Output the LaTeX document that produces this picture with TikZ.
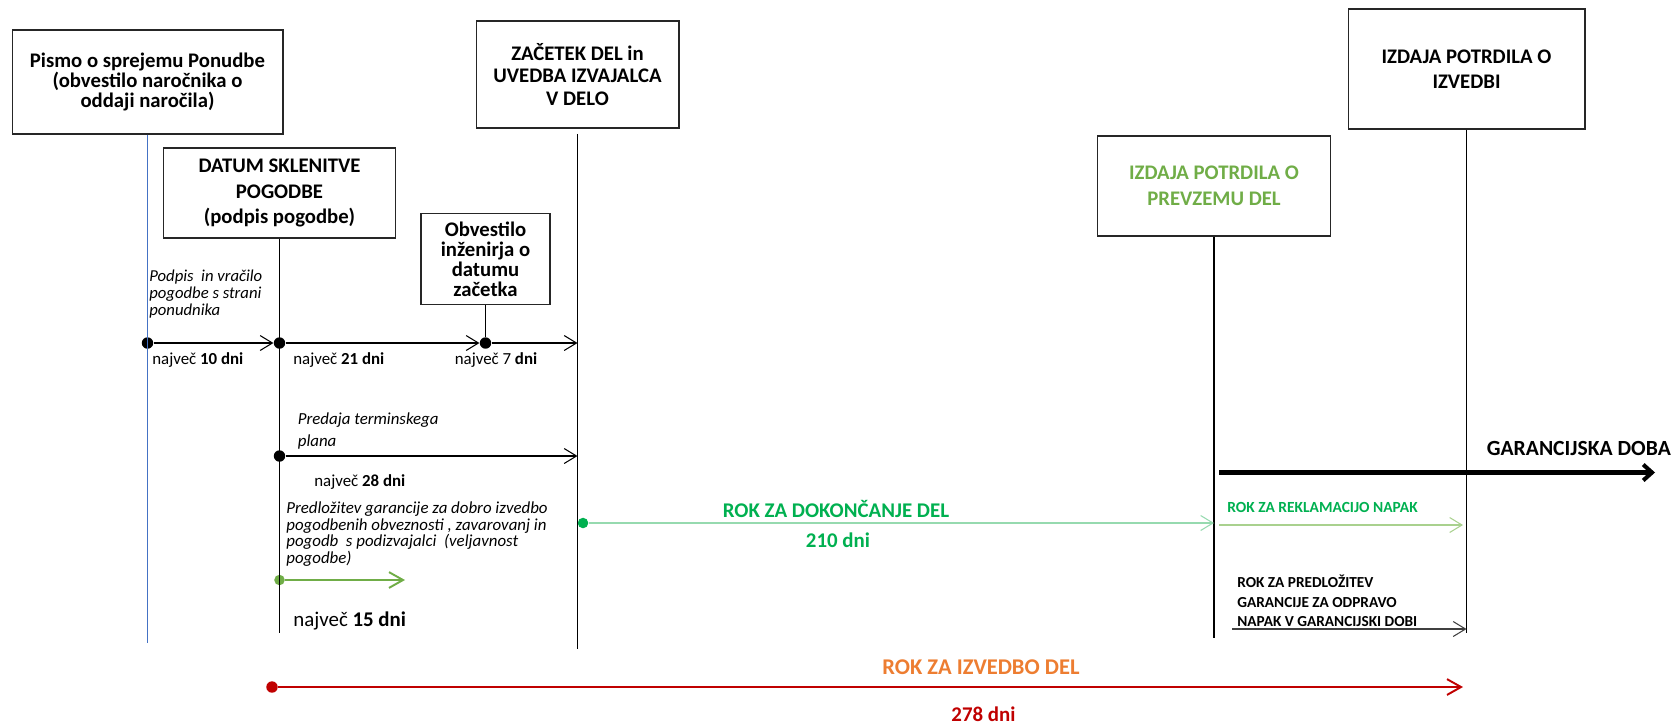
\documentclass[tikz,border=0pt]{standalone}
\usepackage{fontspec}
\setmainfont{Carlito}
\usetikzlibrary{arrows.meta,positioning}
\definecolor{myblue}{RGB}{68,114,196}
\definecolor{mygreen}{RGB}{0,176,80}
\definecolor{myleaf}{RGB}{112,173,71}
\definecolor{mymint}{RGB}{150,218,175}
\definecolor{mypale}{RGB}{169,209,142}
\definecolor{myorange}{RGB}{237,125,49}
\definecolor{myred}{RGB}{192,0,0}

\begin{document}
\begin{tikzpicture}[x=0.02cm,y=-0.02cm,
	eventbox/.style={draw=black!85,line width=0.6pt,rectangle,inner sep=0pt,align=center},
	dot/.style={circle,fill,inner sep=0pt,minimum size=6.5pt},
	vline/.style={line width=0.6pt},
	period/.style={line width=0.6pt,-{Straight Barb[length=7pt,width=8.5pt]}},
	days/.style={anchor=west,inner sep=0pt,font=\fontsize{9.6}{11}\selectfont},
	note/.style={anchor=west,inner sep=0pt,align=left,font=\itshape\fontsize{9.6}{9.4}\selectfont},
	caption/.style={inner sep=0pt,font=\bfseries\fontsize{11.9}{13}\selectfont},
	]
	\useasboundingbox (0,0) rectangle (1675,725);

	% the event boxes
	\node[eventbox,minimum width=5.42cm,minimum height=2.08cm,font=\bfseries\fontsize{11.8}{11.4}\selectfont] (pismo) at (147.5,82)
		{Pismo o sprejemu Ponudbe\\(obvestilo naročnika o\\oddaji naročila)};
	\node[eventbox,minimum width=4.64cm,minimum height=1.80cm,font=\bfseries\fontsize{11.8}{14.3}\selectfont] (datum) at (279.5,193)
		{DATUM SKLENITVE\\POGODBE\\(podpis pogodbe)};
	\node[eventbox,minimum width=2.58cm,minimum height=1.82cm,font=\bfseries\fontsize{11.8}{11.3}\selectfont] (obvestilo) at (485.5,259)
		{Obvestilo\\inženirja o\\datumu\\začetka};
	\node[eventbox,minimum width=4.06cm,minimum height=2.14cm,font=\bfseries\fontsize{11.8}{12.6}\selectfont] (zacetek) at (577.5,74.5)
		{ZAČETEK DEL in\\UVEDBA IZVAJALCA\\V DELO};
	\node[eventbox,minimum width=4.66cm,minimum height=2.00cm,text=myleaf,font=\bfseries\fontsize{11.8}{14.5}\selectfont] (prevzem) at (1214,186)
		{IZDAJA POTRDILA O\\PREVZEMU DEL};
	\node[eventbox,minimum width=4.74cm,minimum height=2.40cm,font=\bfseries\fontsize{11.8}{14}\selectfont] (izvedba) at (1466.5,69)
		{IZDAJA POTRDILA O\\IZVEDBI};

	% ends of the time lines
	\coordinate (pismo end) at (147.5,643);
	\coordinate (datum end) at (279.5,633);
	\coordinate (zacetek end) at (577.5,649);
	\coordinate (prevzem end) at (1214,638);
	\coordinate (izvedba end) at (1466.5,633);

	% milestones
	\node[dot] (m1) at (147.5,343) {};
	\node[dot] (m2) at (279.5,343) {};
	\node[dot] (m3) at (485.5,343) {};
	\node[dot] (m4) at (279.5,456) {};
	\node[dot,myleaf,minimum size=6pt] (m5) at (279.5,580) {};
	\node[dot,mygreen,minimum size=6pt] (m6) at (583,523) {};
	\node[dot,myred] (m7) at (272,687) {};

	% arrow ends
	\coordinate (z1) at (577.5,343);
	\coordinate (z2) at (577.5,456);
	\coordinate (g1) at (405,580);
	\coordinate (k1) at (1214,523);
	\coordinate (r0) at (1219,525);
	\coordinate (r1) at (1463,525);
	\coordinate (w0) at (1219,472.5);
	\coordinate (w1) at (1655,472.5);
	\coordinate (o0) at (1232,629);
	\coordinate (o1) at (1466.5,629);
	\coordinate (i1) at (1463,687);

	% time lines
	\draw[vline,myblue] (pismo) -- (pismo end);
	\draw[vline] (datum) -- (datum end);
	\draw[vline] (obvestilo) -- (m3);
	\draw[vline,shorten <=3pt] (zacetek) -- (zacetek end);
	\draw[vline] (prevzem) -- (prevzem end);
	\draw[vline] (izvedba) -- (izvedba end);

	% periods
	\draw[period] (m1) -- (m2);
	\draw[period] (m2) -- (m3);
	\draw[period] (m3) -- (z1);
	\draw[period] (m4) -- (z2);
	\draw[period,myleaf,line width=1.1pt,-{Straight Barb[length=8pt,width=9pt]}] (m5) -- (g1);
	\draw[period,mymint] (m6) -- (k1);
	\draw[period,mypale] (r0) -- (r1);
	\draw[period,line width=2.3pt,-{Straight Barb[length=5pt,width=9pt]}] (w0) -- (w1);
	\draw[period,black!75] (o0) -- (o1);
	\draw[period,myred,line width=1.1pt,-{Straight Barb[length=8pt,width=9pt]}] (m7) -- (i1);

	% labels
	\node[note,font=\itshape\fontsize{9.5}{9.7}\selectfont] (podpis) at (149,294) {Podpis \ in vračilo\\pogodbe s strani\\ponudnika};
	\node[days] (d10) at (152,360) {največ \textbf{10 dni}};
	\node[days] (d21) at (293,360) {največ \textbf{21 dni}};
	\node[days] (d7) at (454.5,360) {največ 7 \textbf{dni}};
	\node[note,font=\itshape\fontsize{9.6}{12.5}\selectfont] (plan) at (297.5,431) {Predaja terminskega\\plana};
	\node[days] (d28) at (314,482) {največ \textbf{28 dni}};
	\node[note] (garancija) at (286,534) {Predložitev garancije za dobro izvedbo\\pogodbenih obveznosti , zavarovanj in\\pogodb \ s podizvajalci \ (veljavnost\\pogodbe)};
	\node[days,font=\fontsize{11.9}{13}\selectfont] (d15) at (293,621) {največ \textbf{15 dni}};
	\node[caption,mygreen] (dokoncanje) at (836,509) {ROK ZA DOKONČANJE DEL};
	\node[caption,mygreen] (d210) at (838,540) {210 dni};
	\node[caption,myorange,font=\bfseries\fontsize{12.8}{14}\selectfont] (izvedbadel) at (981,667) {ROK ZA IZVEDBO DEL};
	\node[caption,myred,anchor=base] (d278) at (983.5,721) {278 dni};
	\node[caption,anchor=west,font=\bfseries\fontsize{12.3}{13}\selectfont] (garancijska) at (1486.5,448) {GARANCIJSKA DOBA};
	\node[caption,anchor=west,mygreen,font=\bfseries\fontsize{8.8}{10}\selectfont] (reklamacija) at (1227,507) {ROK ZA REKLAMACIJO NAPAK};
	\node[caption,anchor=west,align=left,font=\bfseries\fontsize{8.7}{11.2}\selectfont] (odprava) at (1237,601) {ROK ZA PREDLOŽITEV\\GARANCIJE ZA ODPRAVO\\NAPAK V GARANCIJSKI DOBI};
\end{tikzpicture}
\end{document}
